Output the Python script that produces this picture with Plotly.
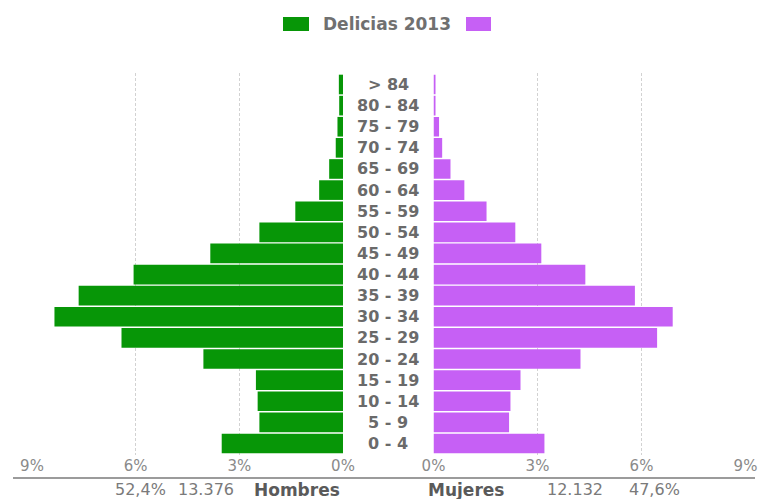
import plotly.graph_objects as go

# Age groups, bottom to top
age_groups = ["0 - 4", "5 - 9", "10 - 14", "15 - 19", "20 - 24", "25 - 29",
              "30 - 34", "35 - 39", "40 - 44", "45 - 49", "50 - 54", "55 - 59",
              "60 - 64", "65 - 69", "70 - 74", "75 - 79", "80 - 84", "> 84"]

# Share of total population (%) by sex
hombres_pct = [3.51, 2.42, 2.47, 2.52, 4.04, 6.41, 8.35, 7.65, 6.06, 3.84,
               2.42, 1.38, 0.69, 0.40, 0.21, 0.16, 0.11, 0.12]
mujeres_pct = [3.20, 2.18, 2.22, 2.51, 4.24, 6.45, 6.90, 5.81, 4.38, 3.11,
               2.36, 1.53, 0.89, 0.49, 0.25, 0.16, 0.05, 0.05]

tick_vals = [0, 3, 6, 9]
tick_text = ["0%", "3%", "6%", "9%"]

title = "Delicias 2013"
hombres_label, hombres_total, hombres_share = "Hombres", "13.376", "52,4%"
mujeres_label, mujeres_total, mujeres_share = "Mujeres", "12.132", "47,6%"

GREEN = "#079607"
PURPLE = "#c660f5"
TEXT = "#6a6a6a"
FONT = "DejaVu Sans"

W, H = 763, 499
M_T, M_B = 73, 44
plot_h = H - M_T - M_B


def px_x(x):
    return x / W


def px_y(y):
    return (H - M_B - y) / plot_h


fig = go.Figure()

fig.add_trace(go.Bar(
    y=age_groups, x=hombres_pct, orientation="h",
    marker=dict(color=GREEN, line=dict(width=0)),
    xaxis="x", yaxis="y", name="Hombres", showlegend=False,
))
fig.add_trace(go.Bar(
    y=age_groups, x=mujeres_pct, orientation="h",
    marker=dict(color=PURPLE, line=dict(width=0)),
    xaxis="x2", yaxis="y2", name="Mujeres", showlegend=False,
))

axis_common = dict(
    tickvals=tick_vals, ticktext=tick_text,
    showgrid=True, gridcolor="#d2d2d2", gridwidth=1, griddash="3px,2px",
    zeroline=False, showline=False, ticks="",
    tickfont=dict(family=FONT, size=15, color="#8a8a8a"),
    fixedrange=True, automargin=False,
)

y_common = dict(
    categoryorder="array", categoryarray=age_groups,
    showticklabels=False, showgrid=False, zeroline=False,
    automargin=False, fixedrange=True,
)

fig.update_layout(
    width=W, height=H, autosize=False,
    margin=dict(l=0, r=0, t=M_T, b=M_B, autoexpand=False),
    paper_bgcolor="white", plot_bgcolor="white",
    bargap=0.07,
    xaxis=dict(domain=[px_x(32), px_x(343)], range=[9, 0], **axis_common),
    xaxis2=dict(domain=[px_x(433.5), px_x(745.5)], range=[0, 9], **axis_common),
    yaxis=dict(**y_common),
    yaxis2=dict(anchor="x2", matches="y", **y_common),
    font=dict(family=FONT, color=TEXT),
)

annotations = []
# Age group labels between the two halves
for g in age_groups:
    annotations.append(dict(
        x=px_x(388), xref="paper", y=g, yref="y",
        text=g, showarrow=False, xanchor="center", yanchor="middle",
        font=dict(family=FONT, size=16, color=TEXT, weight="bold"),
    ))

# Legend-like header
annotations.append(dict(
    x=px_x(387), xref="paper", y=px_y(24), yref="paper",
    text=title, showarrow=False, xanchor="center", yanchor="middle",
    font=dict(family=FONT, size=17, color="#707070", weight="bold"),
))

# Totals under the axis
bottom_y = px_y(490)
bottom_items = [
    (140, hombres_share, False), (206, hombres_total, False), (297, hombres_label, True),
    (466, mujeres_label, True), (575, mujeres_total, False), (654, mujeres_share, False),
]
for xc, txt, bold in bottom_items:
    annotations.append(dict(
        x=px_x(xc), xref="paper", y=bottom_y, yref="paper",
        text=txt, showarrow=False, xanchor="center", yanchor="middle",
        font=dict(family=FONT, size=17 if bold else 16,
                  color="#5a5a5a" if bold else "#7a7a7a",
                  weight="bold" if bold else "normal"),
    ))

fig.update_layout(annotations=annotations)

shapes = [
    # legend swatches
    dict(type="rect", xref="paper", yref="paper",
         x0=px_x(283), x1=px_x(309), y0=px_y(31), y1=px_y(17),
         fillcolor=GREEN, line=dict(width=0)),
    dict(type="rect", xref="paper", yref="paper",
         x0=px_x(466), x1=px_x(491), y0=px_y(31), y1=px_y(17),
         fillcolor=PURPLE, line=dict(width=0)),
    # baseline rule under the tick labels
    dict(type="line", xref="paper", yref="paper",
         x0=px_x(13), x1=px_x(755), y0=px_y(478), y1=px_y(478),
         line=dict(color="#7a7a7a", width=1.5)),
]
fig.update_layout(shapes=shapes)

fig.write_html("out.html")
